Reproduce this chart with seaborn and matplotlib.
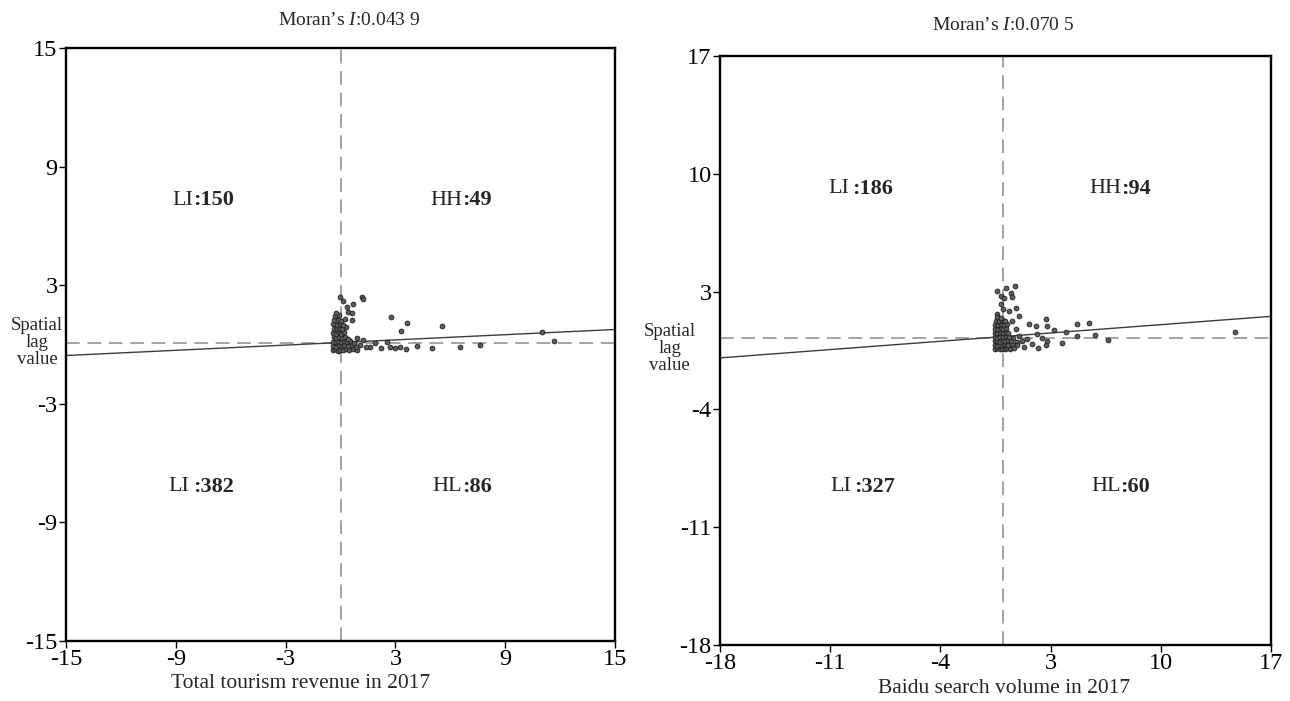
import matplotlib
matplotlib.use('Agg')
import matplotlib.pyplot as plt
import pandas as pd
import seaborn as sns

# Moran scatter values (standardized value, spatial lag)
left_x = [-0.03, 1.16, 1.25, 0.70, 0.43, 0.61, 0.61, 2.74, 3.65, 3.29, 5.53, 10.99, 11.67, 0.15, 0.35,
          1.25, 1.61, 2.52, 2.70, 2.98, 3.25, 4.16, 4.98, 6.53, 7.62, 1.90, 2.20, 0.90, 1.40, 3.60,
          -0.40, -0.28, -0.15, -0.02, 0.12, 0.27, 0.45, 0.68, 0.92,
          -0.39, -0.25, -0.10, 0.06, 0.21, 0.38, 0.60, 0.82, 1.05,
          -0.40, -0.27, -0.13, 0.02, 0.17, 0.33, 0.52, 0.75,
          -0.38, -0.24, -0.08, 0.08, 0.24, 0.42,
          -0.40, -0.26, -0.11, 0.05, 0.20,
          -0.37, -0.22, -0.06, 0.10, 0.28,
          -0.39, -0.20, -0.02, 0.16,
          -0.36, -0.15, 0.05, 0.25,
          -0.30, -0.08, -0.25]
left_y = [2.42, 2.39, 2.29, 2.05, 1.66, 1.58, 1.24, 1.41, 1.10, 0.70, 0.95, 0.62, 0.19, 2.20, 1.90,
          0.23, -0.11, 0.14, -0.11, -0.19, -0.11, -0.08, -0.19, -0.11, -0.03, 0.05, -0.20, 0.35, -0.15, -0.22,
          -0.30, -0.25, -0.31, -0.27, -0.29, -0.24, -0.28, -0.22, -0.26,
          -0.08, -0.12, -0.05, -0.10, -0.04, -0.09, -0.02, -0.12, -0.05,
          0.14, 0.10, 0.17, 0.12, 0.18, 0.11, 0.16, 0.09,
          0.36, 0.31, 0.38, 0.33, 0.40, 0.30,
          0.58, 0.55, 0.61, 0.54, 0.62,
          0.80, 0.77, 0.84, 0.79, 0.86,
          1.02, 0.99, 1.05, 1.00,
          1.22, 1.25, 1.20, 1.30,
          1.42, 1.48, 1.60]

right_x = [-0.38, 0.19, 0.74, -0.17, 0.04, 0.46, 0.53, -0.17, 0.00, 0.83, 1.00, 0.36, -0.38, 1.63,
           2.05, 2.69, 2.80, 3.22, 3.96, 4.70, 5.45, 5.80, 6.65, 3.75, 4.70, 1.84, 2.69, 1.52, 2.48,
           1.00, 1.21, 2.80, 2.16, 0.78, 0.57, 14.70, 1.30, 2.20, 0.60, 0.90,
           -0.55, -0.40, -0.24, -0.08, 0.08, 0.24, 0.45, 0.70,
           -0.54, -0.38, -0.21, -0.04, 0.13, 0.30, 0.55, 0.85,
           -0.55, -0.39, -0.22, -0.05, 0.12, 0.28, 0.48,
           -0.53, -0.37, -0.19, -0.02, 0.16, 0.34,
           -0.55, -0.40, -0.23, -0.05, 0.14, 0.32,
           -0.52, -0.35, -0.17, 0.01, 0.20,
           -0.54, -0.36, -0.15, 0.05, 0.26,
           -0.48, -0.28, -0.08, 0.12,
           -0.40, -0.15]
right_y = [3.04, 3.24, 3.36, 2.74, 2.64, 2.94, 2.68, 2.25, 1.95, 2.05, 1.55, 1.85, 1.65, 1.06,
           0.95, 1.39, 0.95, 0.70, 0.61, 1.09, 1.11, 0.42, 0.12, -0.04, 0.36, -0.14, -0.18, 0.16, 0.26,
           0.36, 0.06, 0.06, 0.46, 0.76, 1.25, 0.60, -0.30, -0.35, 0.25, 0.00,
           -0.42, -0.38, -0.44, -0.40, -0.43, -0.37, -0.41, -0.35,
           -0.18, -0.22, -0.15, -0.20, -0.14, -0.19, -0.12, -0.20,
           0.05, 0.08, 0.02, 0.09, 0.04, 0.10, 0.06,
           0.30, 0.26, 0.33, 0.28, 0.35, 0.29,
           0.55, 0.52, 0.58, 0.53, 0.60, 0.56,
           0.80, 0.77, 0.83, 0.78, 0.85,
           1.04, 1.00, 1.06, 1.02, 1.08,
           1.28, 1.25, 1.32, 1.27,
           1.50, 1.45]

left_ticks = [-15, -9, -3, 3, 9, 15]
right_ticks = [-18, -11, -4, 3, 10, 17]
left_moran = 0.0439
right_moran = 0.0705
left_title = "Moran\u2019s $I$:0.043 9"
right_title = "Moran\u2019s $I$:0.070 5"
left_xlabel = "Total tourism revenue in 2017"
right_xlabel = "Baidu search volume in 2017"
# quadrant labels: (regular part, bold part)
left_quads = [("LI", ":150"), ("HH", ":49"), ("LI", ":382"), ("HL", ":86")]
right_quads = [("LI", ":186"), ("HH", ":94"), ("LI", ":327"), ("HL", ":60")]

sns.set_theme(style='ticks')
plt.rcParams['font.family'] = ['Liberation Serif', 'DejaVu Serif']
plt.rcParams['mathtext.fontset'] = 'custom'
plt.rcParams['mathtext.rm'] = 'Liberation Serif'
plt.rcParams['mathtext.it'] = 'Liberation Serif:italic'
plt.rcParams['axes.unicode_minus'] = False

fig = plt.figure(figsize=(12.9, 7.01), dpi=100)
fig.patch.set_facecolor('white')

panels = [
    dict(rect=[0.0512, 0.0856, 0.4256, 0.846], x=left_x, y=left_y, ticks=left_ticks,
         moran=left_moran, icpt=0.10, hline=0.05, title=left_title, title_x=0.515, title_y=1.047,
         xlabel=left_xlabel, xlabel_x=0.428, xlabel_y=-0.056, ylab_x=-0.053, quads=left_quads,
         gaps=[0.0, 0.0, 0.2, 0.0],
         qpos=[(-8.06, 7.3), (6.64, 7.3), (-8.06, -7.2), (6.64, -7.2)]),
    dict(rect=[0.5581, 0.0799, 0.4271, 0.8402], x=right_x, y=right_y, ticks=right_ticks,
         moran=right_moran, icpt=0.33, hline=0.25, title=right_title, title_x=0.514, title_y=1.052,
         xlabel=right_xlabel, xlabel_x=0.515, xlabel_y=-0.058, ylab_x=-0.091, quads=right_quads,
         gaps=[0.18, 0.0, 0.18, 0.0],
         qpos=[(-9.6, 9.1), (7.5, 9.1), (-9.5, -8.6), (7.45, -8.6)]),
]

for p in panels:
    ax = fig.add_axes(p['rect'])
    df = pd.DataFrame({'value': p['x'], 'lag': p['y']})
    lo, hi = p['ticks'][0], p['ticks'][-1]

    ax.axvline(0, color='#8a8a8a', lw=1.1, dashes=(9, 5), zorder=1)
    ax.axhline(p['hline'], color='#8a8a8a', lw=1.1, dashes=(9, 5), zorder=1)
    ax.axline((0, p['icpt']), slope=p['moran'], color='#3c3c3c', lw=1.0, zorder=2)

    sns.scatterplot(data=df, x='value', y='lag', ax=ax, s=12, color='#5e5e5e',
                    edgecolor='#1e1e1e', linewidth=0.6, zorder=3)

    ax.set_xlim(lo, hi)
    ax.set_ylim(lo, hi)
    ax.set_xticks(p['ticks'])
    ax.set_yticks(p['ticks'])
    ax.tick_params(axis='both', labelsize=17.5, length=5, width=1, direction='out',
                   colors='black', pad=1)
    for s in ax.spines.values():
        s.set_linewidth(1.7)
        s.set_color('black')

    ax.set_xlabel(p['xlabel'], fontsize=15.5)
    ax.xaxis.set_label_coords(p['xlabel_x'], p['xlabel_y'])
    ax.set_ylabel('')
    ax.text(p['ylab_x'], 0.503, "Spatial\nlag\nvalue", transform=ax.transAxes,
            ha='center', va='center', fontsize=13.5, linespacing=1.0)
    ax.text(p['title_x'], p['title_y'], p['title'], transform=ax.transAxes,
            ha='center', va='center', fontsize=14)

    for (reg, bold), (qx, qy), g in zip(p['quads'], p['qpos'], p['gaps']):
        ax.text(qx - g, qy, reg, ha='right', va='center', fontsize=16)
        ax.text(qx, qy, bold, ha='left', va='center', fontsize=16, fontweight='bold')

fig.savefig('out.png', dpi=100, facecolor='white')
